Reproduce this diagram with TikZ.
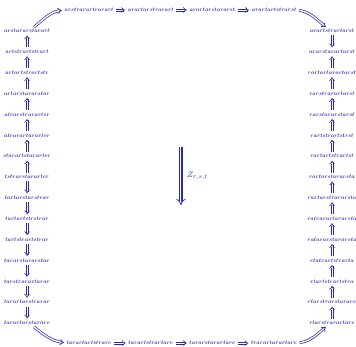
\documentclass[tikz,border=0pt]{standalone}
\usepackage{amsmath,amssymb}
\usetikzlibrary{arrows.meta,positioning,calc}
\definecolor{cdblue}{RGB}{40,40,170}
\newcommand{\cdlbl}[1]{\scalebox{.46}{\boldmath$#1$}}
\tikzset{
  cell/.style={font=\fontsize{12}{14}\selectfont, text=cdblue, inner sep=1pt},
  shaft/.style={draw=cdblue, line width=.6pt},
  imptip/.style={draw=cdblue, double, double distance=1.3pt, line width=.6pt, -{Implies}},
  imp/.style={draw=cdblue, double, double distance=1.3pt, line width=.7pt,
              -{Implies}, shorten <=1.5pt, shorten >=1.5pt},
  trip/.style={draw=cdblue, double, double distance=2.6pt, line width=.7pt, -{Implies}},
  zlabel/.style={font=\footnotesize, text=cdblue, anchor=west, inner sep=1pt},
}
% straight double arrow from node #1 to node #2
\newcommand{\dimp}[2]{%
  \path (#1) -- (#2) coordinate[pos=0] (pa) coordinate[pos=1] (pb);
  \coordinate (qa) at ($(pa)!1.5pt!(pb)$);
  \coordinate (qb) at ($(pb)!1.5pt!(pa)$);
  \coordinate (qe) at ($(qb)!1.4pt!(qa)$);
  \draw[shaft] ($(qa)!.95pt!90:(qb)$) -- ($(qe)!.95pt!90:(qb)$);
  \draw[shaft] ($(qa)!.95pt!-90:(qb)$) -- ($(qe)!.95pt!-90:(qb)$);
  \draw[imptip] ($(qb)!2pt!(qa)$) -- (qb);
}

\begin{document}
\begin{tikzpicture}[x=1pt,y=1pt]
\useasboundingbox (0,0) rectangle (356,347);

% left column
\foreach \t [count=\i] in {arstararstarart, artstrartstrart, artartstrartstr,
    artarstararstar, atrarstrararter, atrarartararter, starartstararter,
    tstrarstararter, tartarstarstrar, tartartstrstrar, tartstrartstrar,
    tararstararstar, tarstrarartarar, tarartarstrarar, tarartarstarare}
  \node[cell] (l\i) at (27,{316-20.857*(\i-1)}) {\cdlbl{\t}};

% right column
\foreach \t [count=\i] in {arartstrartarst, ararstarartarst, rartartarartarst,
    rarstrarartarst, rarstararstarst, rartstrartstrst, rartartstrartst,
    rartarstararsta, rartarstrararsta, ratrarartararsta, ratararstararsta,
    rtatrartstrarta, rtartstrartstra, rtarstrarstarare, rtarstrarartare}
  \node[cell] (r\i) at (332,{316-20.857*(\i-1)}) {\cdlbl{\t}};

% top and bottom rows
\foreach \t [count=\i] in {arstrarartrarart, arartarstrarart, arartarstararst, arartartstrarst}
  \node[cell] (t\i) at ({89+61.7*(\i-1)},337) {\cdlbl{\t}};
\foreach \t [count=\i] in {tarartartstrare, tarartstrartare, tararstarartare, trarartarartare}
  \node[cell] (b\i) at ({89+61.7*(\i-1)},4) {\cdlbl{\t}};

% vertical arrows
\foreach \i in {1,...,7} {
  \pgfmathtruncatemacro\j{\i+1}
  \dimp{l\j}{l\i}
}
\foreach \i in {8,...,14} {
  \pgfmathtruncatemacro\j{\i+1}
  \dimp{l\i}{l\j}
}
\dimp{r1}{r2}
\foreach \i in {2,...,14} {
  \pgfmathtruncatemacro\j{\i+1}
  \dimp{r\j}{r\i}
}

% horizontal arrows
\foreach \a/\b in {t1/t2, t2/t3, t3/t4, b1/b2, b2/b3, b3/b4} {
  \dimp{\a}{\b}
}

% corners
\draw[imp] ([xshift=6pt]l1.north) to[out=40, in=190] (t1.west);
\draw[imp] (t4.east) to[out=-10, in=140] ([xshift=-5pt]r1.north);
\draw[imp] ([xshift=6pt]l15.south) to[out=-40, in=170] (b1.west);
\draw[imp] (b4.east) to[out=10, in=-140] ([xshift=-5pt]r15.south);

% 3-cell
\coordinate (zt) at (181,200);
\coordinate (zb) at (181,142);
\draw[trip] (zt) -- (zb);
\draw[cdblue, line width=.7pt, shorten >=2.5pt] (zt) -- (zb);
\node[zlabel] (z) at (186,171) {$Z_{r,s,t}$};
\end{tikzpicture}
\end{document}
